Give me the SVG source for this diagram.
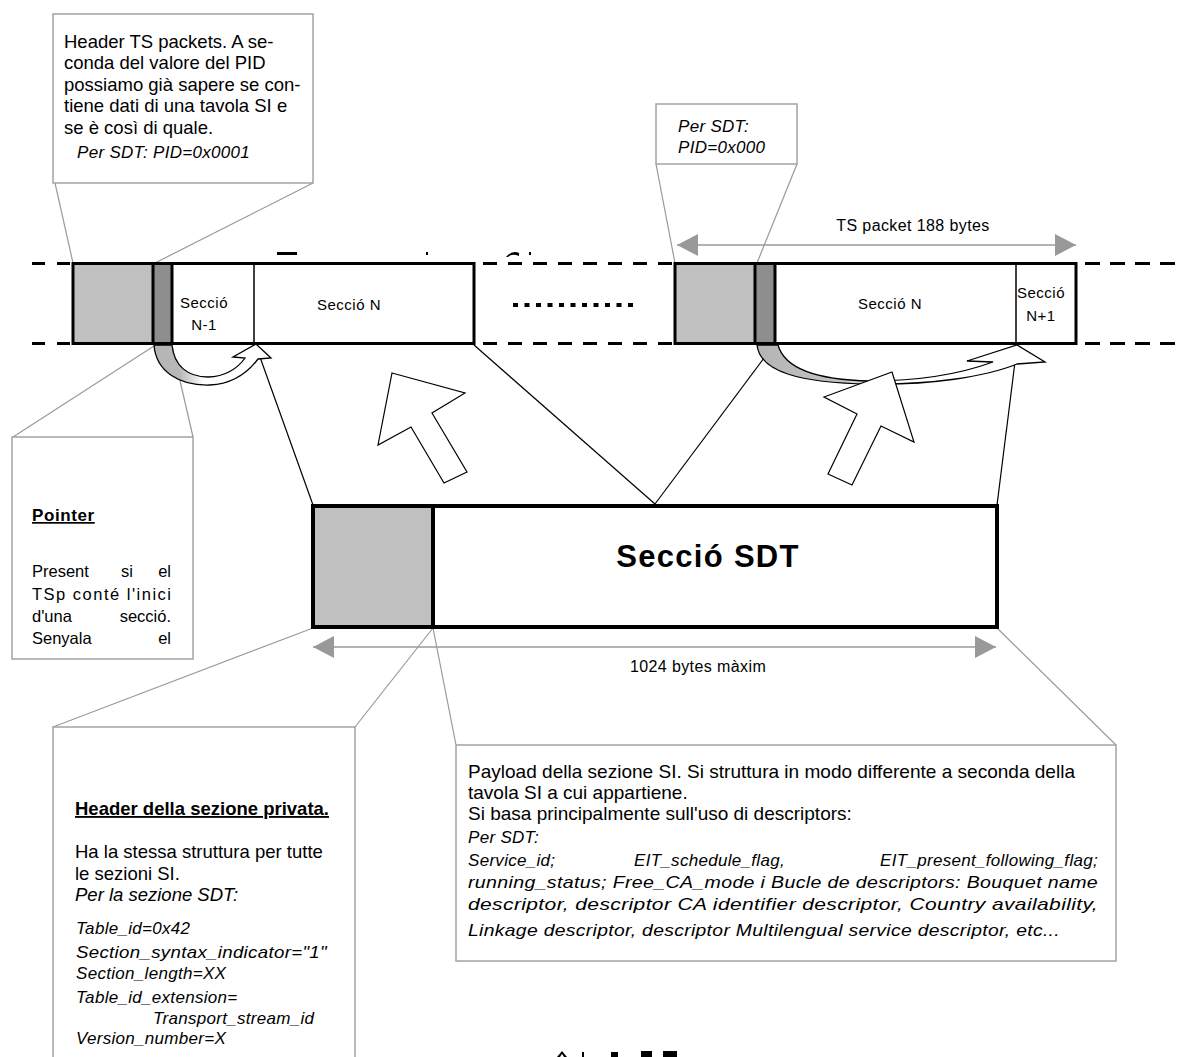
<svg xmlns="http://www.w3.org/2000/svg" width="1184" height="1057" viewBox="0 0 1184 1057">
<defs>
<style>
text{font-family:"Liberation Sans",Arial,sans-serif;fill:#000}
.note{font-size:18.5px}
.pay{font-size:19px}
.bold{font-weight:bold}
.ul{text-decoration:underline}
.it{font-style:italic;font-size:17px;letter-spacing:0.3px}
.cell{font-size:15px;letter-spacing:0.5px}
.dimtxt{font-size:16px;letter-spacing:0.4px}
.callout{fill:#fff;stroke:#a3a3a3;stroke-width:1.5}
.lead{stroke:#9a9a9a;stroke-width:1.2;fill:none}
.link{stroke:#000;stroke-width:1.2;fill:none}
.dash{stroke:#000;stroke-width:3;fill:none}
.frame{fill:none;stroke:#000;stroke-width:3}
.hollow{fill:#fff;stroke:#000;stroke-width:1.2;stroke-linejoin:miter}
.dim{stroke:#9a9a9a;stroke-width:1.5;fill:none}
.light{fill:#c0c0c0}
.darkg{fill:#8e8e8e}
</style>
<marker id="tri" viewBox="0 0 21 22" refX="21" refY="11" markerWidth="21" markerHeight="22" markerUnits="userSpaceOnUse" orient="auto-start-reverse">
<path d="M0,0 L21,11 L0,22 Z" fill="#999"/>
</marker>
<linearGradient id="gL" gradientUnits="userSpaceOnUse" x1="154" y1="0" x2="272" y2="0">
<stop offset="0" stop-color="#b4b4b4"/><stop offset="0.22" stop-color="#b8b8b8"/><stop offset="0.42" stop-color="#fff"/>
</linearGradient>
<linearGradient id="gR" gradientUnits="userSpaceOnUse" x1="757" y1="0" x2="1045" y2="0">
<stop offset="0" stop-color="#b4b4b4"/><stop offset="0.3" stop-color="#c4c4c4"/><stop offset="0.45" stop-color="#fff"/>
</linearGradient>
</defs>
<rect width="1184" height="1057" fill="#fff"/>

<!-- connectors: callout leaders, link lines, size arrows -->
<g id="connectors">
<line class="lead" x1="55" y1="183" x2="73" y2="263"/>
<line class="lead" x1="313" y1="183" x2="155" y2="263"/>
<line class="lead" x1="656" y1="164" x2="675" y2="263"/>
<line class="lead" x1="797" y1="164" x2="757" y2="263"/>
<line class="lead" x1="13" y1="437" x2="154" y2="346"/>
<line class="lead" x1="193" y1="437" x2="172" y2="346"/>
<line class="lead" x1="313" y1="628" x2="53" y2="727"/>
<line class="lead" x1="433" y1="628" x2="355" y2="727"/>
<line class="lead" x1="433" y1="628" x2="456" y2="745"/>
<line class="lead" x1="997" y1="628" x2="1116" y2="745"/>
<line class="link" x1="256" y1="346" x2="313" y2="505"/>
<line class="link" x1="474" y1="345" x2="655" y2="504"/>
<line class="link" x1="655" y1="504" x2="764" y2="358"/>
<line class="link" x1="997" y1="505" x2="1015" y2="362"/>
<line class="dim" x1="677" y1="245" x2="1076" y2="245" marker-start="url(#tri)" marker-end="url(#tri)"/>
<line class="dim" x1="313" y1="647" x2="996" y2="647" marker-start="url(#tri)" marker-end="url(#tri)"/>
</g>

<!-- transport stream band -->
<g id="stream">
<line class="dash" x1="32" y1="263.5" x2="72" y2="263.5" stroke-dasharray="13 12"/>
<line class="dash" x1="32" y1="343.5" x2="72" y2="343.5" stroke-dasharray="13 12"/>
<line class="dash" x1="483" y1="263.5" x2="675" y2="263.5" stroke-dasharray="14 11"/>
<line class="dash" x1="483" y1="343.5" x2="675" y2="343.5" stroke-dasharray="14 11"/>
<line class="dash" x1="1085" y1="263.5" x2="1184" y2="263.5" stroke-dasharray="15 10"/>
<line class="dash" x1="1085" y1="343.5" x2="1184" y2="343.5" stroke-dasharray="15 10"/>
<line x1="513" y1="305" x2="633" y2="305" stroke="#000" stroke-width="4" stroke-dasharray="5 6.5"/>
<!-- clipped remnants of a heading hidden behind the band -->
<rect x="277" y="252" width="20" height="3"/>
<rect x="426" y="252" width="2" height="3"/>
<path d="M506,257 Q512,250 519,253 L519,256 Q512,253 508,257 Z"/>
<rect x="529" y="252" width="2" height="3"/>
</g>

<g id="packet-1">
<rect x="73" y="263.5" width="401" height="80" fill="#fff"/>
<rect class="light" x="73" y="263.5" width="80" height="80"/>
<rect class="darkg" x="153" y="263.5" width="19" height="80"/>
<line x1="153" y1="263.5" x2="153" y2="343.5" stroke="#000" stroke-width="3"/>
<line x1="172" y1="263.5" x2="172" y2="343.5" stroke="#000" stroke-width="3"/>
<line x1="254" y1="263.5" x2="254" y2="343.5" stroke="#000" stroke-width="1.5"/>
<rect class="frame" x="73" y="263.5" width="401" height="80"/>
<text class="cell" x="204" y="308" text-anchor="middle">Secció</text>
<text class="cell" x="204" y="330" text-anchor="middle">N-1</text>
<text class="cell" x="349" y="310" text-anchor="middle">Secció N</text>
</g>

<g id="packet-2">
<rect x="675" y="263.5" width="401" height="80" fill="#fff"/>
<rect class="light" x="675" y="263.5" width="80" height="80"/>
<rect class="darkg" x="755" y="263.5" width="20" height="80"/>
<line x1="755" y1="263.5" x2="755" y2="343.5" stroke="#000" stroke-width="3"/>
<line x1="775" y1="263.5" x2="775" y2="343.5" stroke="#000" stroke-width="3"/>
<line x1="1016" y1="263.5" x2="1016" y2="343.5" stroke="#000" stroke-width="1.5"/>
<rect class="frame" x="675" y="263.5" width="401" height="80"/>
<text class="cell" x="890" y="309" text-anchor="middle">Secció N</text>
<text class="cell" x="1041" y="298" text-anchor="middle">Secció</text>
<text class="cell" x="1041" y="321" text-anchor="middle">N+1</text>
</g>

<g id="packet-size">
<text class="dimtxt" x="913" y="231" text-anchor="middle">TS packet 188 bytes</text>
</g>

<!-- pointer jumps from the pointer field to the start of the next section -->
<g id="pointer-jump-1">
<path d="M154,345 C156,372 180,386 210,385 C234,384 249,371 258,359 L271,358 L256,344 L233,357 L245,358 C238,368 225,377 208,377 C188,377 174,366 172,345 Z" fill="url(#gL)" stroke="#000" stroke-width="1.3" stroke-linejoin="miter"/>
</g>
<g id="pointer-jump-2">
<path d="M757,345 C760,372 800,383 870,384 C930,385 985,377 1017,364 L1045,362 L1017,345 L967,361 L993,362 C960,374 920,381 870,381 C820,380 785,370 778,345 Z" fill="url(#gR)" stroke="#000" stroke-width="1.3" stroke-linejoin="miter"/>
</g>

<!-- hollow arrows: the section is carried in the packets -->
<g id="carry-arrow-1">
<path class="hollow" d="M392,373 L465,393 L432,413 L467,472 L444,483 L411,427 L378,445 Z"/>
</g>
<g id="carry-arrow-2">
<path class="hollow" d="M892,372 L914,442 L881,426 L852,485 L828,474 L857,414 L824,397 Z"/>
</g>

<g id="section-sdt">
<rect x="313" y="506" width="684" height="121" fill="#fff"/>
<rect class="light" x="313" y="506" width="120" height="121"/>
<line x1="433" y1="506" x2="433" y2="627" stroke="#000" stroke-width="4"/>
<rect x="313" y="506" width="684" height="121" fill="none" stroke="#000" stroke-width="4"/>
<text x="708" y="567" text-anchor="middle" font-size="31" font-weight="bold" letter-spacing="1.3">Secció SDT</text>
</g>

<g id="section-size">
<text class="dimtxt" x="698" y="672" text-anchor="middle" font-size="16.5">1024 bytes màxim</text>
</g>

<g id="note-ts-header">
<rect class="callout" x="53" y="14" width="260" height="169"/>
<text class="note" x="64" y="48">Header TS packets. A se-</text>
<text class="note" x="64" y="69">conda del valore del PID</text>
<text class="note" x="64" y="91">possiamo già sapere se con-</text>
<text class="note" x="64" y="112">tiene dati di una tavola SI e</text>
<text class="note" x="64" y="134">se è così di quale.</text>
<text class="it" x="77" y="158">Per SDT: PID=0x0001</text>
</g>

<g id="note-pid">
<rect class="callout" x="656" y="104" width="141" height="60"/>
<text class="it" x="678" y="132">Per SDT:</text>
<text class="it" x="678" y="153">PID=0x000</text>
</g>

<g id="note-pointer">
<rect class="callout" x="12" y="437" width="181" height="222"/>
<text class="bold ul" x="32" y="521" font-size="17" letter-spacing="0.6">Pointer</text>
<text x="32" y="577" font-size="16.5">Present</text>
<text x="127" y="577" font-size="16.5" text-anchor="middle">si</text>
<text x="171" y="577" font-size="16.5" text-anchor="end">el</text>
<text x="32" y="600" font-size="16.5" textLength="139" lengthAdjust="spacing">TSp conté l'inici</text>
<text x="32" y="622" font-size="16.5">d'una</text>
<text x="171" y="622" font-size="16.5" text-anchor="end">secció.</text>
<text x="32" y="644" font-size="16.5">Senyala</text>
<text x="171" y="644" font-size="16.5" text-anchor="end">el</text>
</g>

<g id="note-section-header">
<rect class="callout" x="53" y="727" width="302" height="345"/>
<text class="note bold ul" x="75" y="815">Header della sezione privata.</text>
<text class="note" x="75" y="858">Ha la stessa struttura per tutte</text>
<text class="note" x="75" y="880">le sezioni SI.</text>
<text class="note" x="75" y="901" font-style="italic">Per la sezione SDT:</text>
<text class="it" x="76" y="934">Table_id=0x42</text>
<text class="it" x="76" y="958" textLength="251" lengthAdjust="spacingAndGlyphs">Section_syntax_indicator="1"</text>
<text class="it" x="76" y="979">Section_length=XX</text>
<text class="it" x="76" y="1003">Table_id_extension=</text>
<text class="it" x="153" y="1024">Transport_stream_id</text>
<text class="it" x="76" y="1044">Version_number=X</text>
</g>

<g id="note-payload">
<rect class="callout" x="456" y="745" width="660" height="216"/>
<text class="pay" x="468" y="778" textLength="607" lengthAdjust="spacingAndGlyphs">Payload della sezione SI. Si struttura in modo differente a seconda della</text>
<text class="pay" x="468" y="799">tavola SI a cui appartiene.</text>
<text class="pay" x="468" y="820">Si basa principalmente sull'uso di descriptors:</text>
<text class="it" x="468" y="843">Per SDT:</text>
<text class="it" x="468" y="866">Service_id;</text>
<text class="it" x="634" y="866">EIT_schedule_flag,</text>
<text class="it" x="1098" y="866" text-anchor="end">EIT_present_following_flag;</text>
<text class="it" x="468" y="888" textLength="630" lengthAdjust="spacingAndGlyphs">running_status; Free_CA_mode i Bucle de descriptors:  Bouquet name</text>
<text class="it" x="468" y="910" textLength="630" lengthAdjust="spacingAndGlyphs">descriptor, descriptor CA identifier descriptor, Country availability,</text>
<text class="it" x="468" y="936" textLength="592" lengthAdjust="spacingAndGlyphs">Linkage descriptor, descriptor Multilengual service descriptor, etc...</text>
</g>

<!-- clipped remnants of a caption below the frame -->
<g id="caption-remnant">
<path d="M557,1057 L562,1051 L567,1057 L564,1057 L562,1054 L560,1057 Z"/>
<rect x="582" y="1052" width="2" height="5"/>
<rect x="611" y="1052" width="7" height="5"/>
<rect x="641" y="1051" width="11" height="6"/>
<rect x="663" y="1051" width="14" height="6"/>
</g>
</svg>
